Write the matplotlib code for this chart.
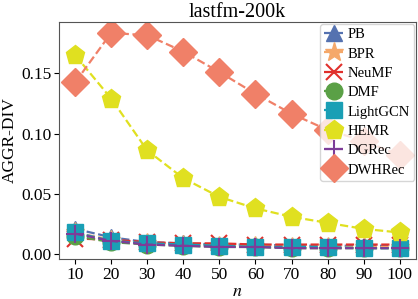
import matplotlib
matplotlib.use("Agg")
import matplotlib.pyplot as plt

plt.rcParams['font.family'] = ['Liberation Serif', 'DejaVu Serif']
plt.rcParams['mathtext.fontset'] = 'stix'

n = [10, 20, 30, 40, 50, 60, 70, 80, 90, 100]
pb = [0.021, 0.014, 0.010, 0.009, 0.008, 0.008, 0.007, 0.007, 0.007, 0.007]
bpr = [0.018, 0.012, 0.009, 0.008, 0.007, 0.007, 0.006, 0.006, 0.006, 0.006]
neumf = [0.013, 0.012, 0.010, 0.009, 0.009, 0.008, 0.008, 0.008, 0.008, 0.008]
dmf = [0.015, 0.010, 0.008, 0.007, 0.006, 0.006, 0.005, 0.005, 0.005, 0.005]
lightgcn = [0.018, 0.011, 0.009, 0.008, 0.007, 0.006, 0.006, 0.006, 0.005, 0.005]
hemr = [0.165, 0.129, 0.086, 0.063, 0.0475, 0.038, 0.031, 0.026, 0.021, 0.018]
dgrec = [0.017, 0.011, 0.008, 0.007, 0.006, 0.006, 0.005, 0.005, 0.005, 0.005]
dwhrec = [0.1425, 0.1835, 0.1815, 0.168, 0.151, 0.133, 0.1165, 0.103, 0.094, 0.082]

series = [
    ("PB", pb, "#5572b0", "^", 12),
    ("BPR", bpr, "#f5a86a", "*", 14),
    ("NeuMF", neumf, "#e0302c", "x", 11),
    ("DMF", dmf, "#5aa046", "o", 12),
    ("LightGCN", lightgcn, "#1a9fb5", "s", 12),
    ("HEMR", hemr, "#e0e020", "p", 14),
    ("DGRec", dgrec, "#7d3c98", "+", 13),
    ("DWHRec", dwhrec, "#f08068", "D", 14),
]

fig, ax = plt.subplots(figsize=(4.18, 2.99), dpi=100)
fig.subplots_adjust(left=0.141, right=0.995, top=0.926, bottom=0.134)

for label, vals, color, m, ms in series:
    ax.plot(n, vals, linestyle="--", marker=m, color=color, label=label,
            markersize=ms, linewidth=1.6,
            markeredgewidth=1.5 if m in ("x", "+") else 1,
            markeredgecolor=color)

ax.set_xticks(n)
ax.set_yticks([0.0, 0.05, 0.10, 0.15])
ax.set_yticklabels(["0.00", "0.05", "0.10", "0.15"])
ax.tick_params(labelsize=12.5, pad=2)
ax.set_xlabel(r"$n$", fontsize=13, labelpad=0)
ax.set_ylabel("AGGR-DIV", fontsize=12.5, labelpad=2)
ax.set_title("lastfm-200k", fontsize=14.5, pad=3)
for s in ax.spines.values():
    s.set_color("#555555")
ax.legend(loc="upper right", fontsize=10.5, handlelength=1.3, handletextpad=0.3,
          labelspacing=0.42, borderpad=0.3, borderaxespad=0.1, framealpha=0.8)

fig.savefig("out.png", dpi=100)
